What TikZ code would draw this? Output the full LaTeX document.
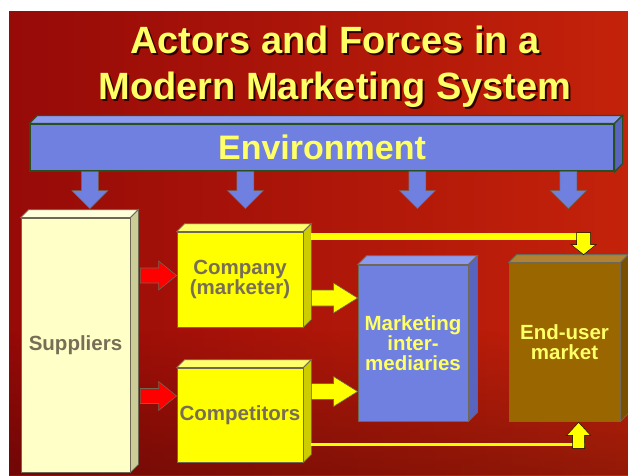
\documentclass[tikz,border=0pt]{standalone}
\usepackage{fontspec}
\setmainfont{Liberation Sans}
\usetikzlibrary{calc,fadings}

\definecolor{redleft}{RGB}{150,10,8}
\definecolor{redright}{RGB}{196,34,10}
\definecolor{txtyellow}{RGB}{255,255,102}
\definecolor{txtgray}{RGB}{120,110,86}
\definecolor{boxedge}{RGB}{110,104,84}
\definecolor{envedge}{RGB}{40,80,30}
\definecolor{blueface}{RGB}{112,128,224}
\definecolor{bluetop}{RGB}{140,154,240}
\definecolor{blueside}{RGB}{88,100,190}
\definecolor{supface}{RGB}{255,255,200}
\definecolor{suptop}{RGB}{255,255,220}
\definecolor{supside}{RGB}{204,204,150}
\definecolor{yelface}{RGB}{255,255,0}
\definecolor{yeltop}{RGB}{255,255,110}
\definecolor{yelside}{RGB}{204,204,0}
\definecolor{brownface}{RGB}{153,102,0}
\definecolor{browntop}{RGB}{176,130,50}
\definecolor{brownside}{RGB}{122,80,0}
\definecolor{arrowred}{RGB}{255,0,0}

\tikzset{
  box/.style={draw=boxedge, line width=0.8pt, inner sep=0pt, align=center,
    font=\bfseries\fontsize{20.5}{20}\selectfont},
  boxline/.style={draw=boxedge, line width=0.8pt},
  titletext/.style={anchor=base, text=txtyellow, font=\bfseries\fontsize{38}{44}\selectfont},
  titleshadow/.style={titletext, text=black!80!red},
  redarrow/.style={fill=arrowred, draw=boxedge, line width=0.6pt},
  yelarrow/.style={fill=yelface, draw=boxedge, line width=0.6pt},
  bluearrow/.style={fill=blueface, draw=boxedge, line width=0.5pt},
  yelpath/.style={fill=yelface}
}

% faces of a box: node, top colour, side colour, depth
\newcommand{\boxfaces}[5][boxline]{%
  \draw[#1, fill=#3] (#2.north west) -- ++(#5,-#5) -- ($(#2.north east)+(#5,-#5)$) -- (#2.north east) -- cycle;
  \draw[#1, fill=#4] (#2.north east) -- ++(#5,-#5) -- ($(#2.south east)+(#5,-#5)$) -- (#2.south east) -- cycle;
}
% block arrow to the right: style, from, to, shaft half, head half, head length
\newcommand{\harrow}[6]{%
  \draw[#1] let \p1=#2, \p2=#3 in
    (\x1,\y1+#4) -- (\x2-#6,\y1+#4) -- (\x2-#6,\y1+#5) -- (\x2,\y1)
    -- (\x2-#6,\y1-#5) -- (\x2-#6,\y1-#4) -- (\x1,\y1-#4) -- cycle;
}
% block arrow up or down: style, from, to, shaft half, head half, signed head length
\newcommand{\varrow}[6]{%
  \draw[#1] let \p1=#2, \p2=#3 in
    (\x1-#4,\y1) -- (\x1-#4,\y2+#6) -- (\x1-#5,\y2+#6) -- (\x1,\y2)
    -- (\x1+#5,\y2+#6) -- (\x1+#4,\y2+#6) -- (\x1+#4,\y1) -- cycle;
}

\begin{document}
\begin{tikzpicture}[x=1pt, y=-1pt]
\useasboundingbox (0,0) rectangle (628,475);

% Background
\fill[white] (0,0) rectangle (628,475);
\shade[left color=redleft, right color=redright] (9,11) rectangle (628,475);
\fill[black, opacity=0.25, path fading=north] (9,330) rectangle (628,475);

% Title
\node[titleshadow] at (337,55) {Actors and Forces in a};
\node[titletext] (title1) at (335,53) {Actors and Forces in a};
\node[titleshadow] at (337,101) {Modern Marketing System};
\node[titletext] (title2) at (335,99) {Modern Marketing System};

% Environment bar
\node[box, draw=envedge, line width=1.2pt, fill=blueface, minimum width=584pt, minimum height=47pt,
      text=txtyellow, font=\bfseries\fontsize{34}{34}\selectfont] (env) at (322,147.5) {Environment};
\boxfaces[draw=envedge, line width=1.2pt]{env}{bluetop}{blueside}{8}

% Environment arrows
\varrow{bluearrow}{($(env.south west)+(60.5,0)$)}{($(env.south west)+(60.5,37)$)}{8.5pt}{18pt}{18pt}
\varrow{bluearrow}{($(env.south west)+(216,0)$)}{($(env.south west)+(216,37)$)}{8.5pt}{18pt}{18pt}
\varrow{bluearrow}{($(env.south west)+(388,0)$)}{($(env.south west)+(388,37)$)}{8.5pt}{18pt}{18pt}
\varrow{bluearrow}{($(env.south west)+(539,0)$)}{($(env.south west)+(539,37)$)}{8.5pt}{18pt}{18pt}

% Suppliers
\node[box, fill=supface, text=txtgray, minimum width=109pt, minimum height=254pt] (sup) at (75.5,345) {Suppliers};
\boxfaces{sup}{suptop}{supside}{8}

% Company
\node[box, fill=yelface, text=txtgray, minimum width=126pt, minimum height=95pt] (comp) at (240,279.5) {Company\\(marketer)};
\boxfaces{comp}{yeltop}{yelside}{8}

% Competitors
\node[box, fill=yelface, text=txtgray, minimum width=126pt, minimum height=94pt] (cmpt) at (240,415) {\raisebox{4pt}{Competitors}};
\boxfaces{cmpt}{yeltop}{yelside}{8}

% Marketing intermediaries
\node[box, fill=blueface, text=txtyellow, minimum width=110pt, minimum height=156pt] (mi) at (413,343) {Marketing\\inter-\\mediaries};
\boxfaces{mi}{bluetop}{blueside}{9}

% End-user market
\node[box, fill=brownface, text=txtyellow, minimum width=111pt, minimum height=158pt] (eu) at (564.5,342) {End-user\\market};
\boxfaces{eu}{browntop}{brownside}{8}

% Suppliers to company and competitors
\harrow{redarrow}{($(sup.east |- comp.west)+(10,-4)$)}{(comp.west)}{7.5pt}{14.5pt}{18pt}
\harrow{redarrow}{($(sup.east |- cmpt.west)+(10,-19)$)}{(cmpt.west)}{7.5pt}{14.5pt}{18pt}

% Company and competitors to intermediaries
\harrow{yelarrow}{($(comp.east)+(8,18.5)$)}{(mi.west)}{8pt}{15pt}{24pt}
\harrow{yelarrow}{($(cmpt.east)+(8,-23.5)$)}{(mi.west)}{8pt}{15pt}{24pt}

% Company to end-user market
\coordinate (toptip) at ($(eu.north west)+(75,-8)$);
\fill[yelpath] ($(comp.north east)+(8,1)$) rectangle ($(toptip)+(0,-15)$);
\varrow{yelpath}{($(toptip)+(0,-22)$)}{(toptip)}{7pt}{12.5pt}{10pt}

% Competitors to end-user market
\coordinate (bottip) at ($(eu.south west)+(70,1)$);
\fill[yelpath] ($(cmpt.south east)+(8,-19.5)$) rectangle ($(bottip)+(6,23.5)$);
\varrow{yelpath}{($(bottip)+(0,26)$)}{(bottip)}{6pt}{12pt}{-13pt}
\end{tikzpicture}
\end{document}
